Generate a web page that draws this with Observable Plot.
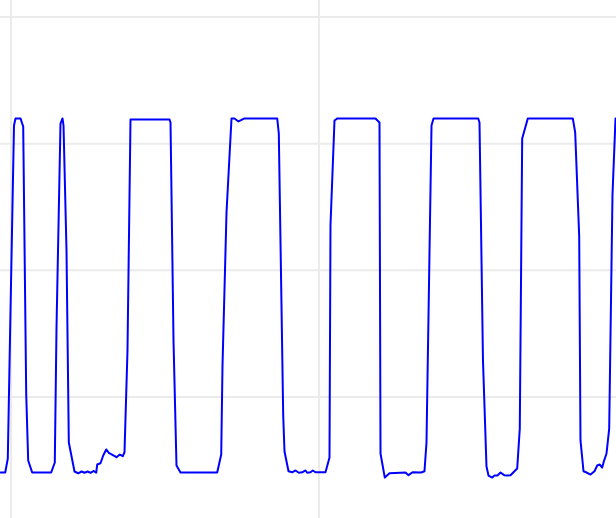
<!DOCTYPE html>
<html>
<head>
<meta charset="utf-8">
<script src="https://cdn.jsdelivr.net/npm/d3@7"></script>
<script src="https://cdn.jsdelivr.net/npm/@observablehq/plot@0.6"></script>
<style>
  html, body { margin: 0; padding: 0; background: #fff; }
  #chart svg { display: block; }
</style>
</head>
<body>
<div id="chart"></div>
<script>
// Time values
const tVals = [
  -3.41, -1.88, -1.04, -0.16, 0.97, 1.46, 3.08, 3.96, 4.94, 5.58, 6.88,
  13.05, 14.22, 14.77, 16.07, 16.72, 17.05, 18.02, 18.77, 20.62, 21.82,
  22.89, 23.86, 24.84, 25.81, 26.88, 27.66, 27.99, 29.06, 29.94, 30.91,
  31.75, 33.38, 34.25, 35.32, 36.30, 36.85, 37.82, 38.80, 51.46, 51.79,
  52.76, 53.73, 55.03, 66.95, 68.25, 68.67, 69.97, 71.59, 72.56, 73.86,
  75.81, 86.43, 86.95, 88.38, 88.80, 90.10, 91.30, 92.37, 93.44, 94.55,
  95.62, 96.17, 97.24, 97.99, 98.86, 102.11, 103.41, 103.73, 105.03, 106.01,
  118.34, 119.64, 119.97, 121.36, 122.89, 128.08, 129.06, 130.36, 133.18, 134.25,
  134.90, 136.53, 137.18, 151.69, 152.11, 153.24, 154.38, 155.03, 156.23, 156.98,
  157.95, 158.93, 160.13, 161.10, 162.18, 163.47, 164.35, 165.19, 165.97, 167.79,
  182.40, 183.18, 184.48, 184.90, 185.88, 186.85, 188.15, 189.45, 190.32, 191.17,
  191.95, 192.47, 193.35, 194.22, 195.29, 196.27, 197.50
];
// Signal values
const yVals = [
  -5.96, -5.96, -4.86, 6.83, 21.43, 21.99, 21.99, 21.35, 0.20, -5.01, -5.96,
  -5.96, -5.17, 5.41, 21.59, 21.99, 21.43, 11.57, -3.59, -5.88, -6.02,
  -5.88, -5.98, -5.88, -5.98, -5.84, -5.98, -5.33, -5.23, -4.62, -4.14,
  -4.41, -4.62, -4.75, -4.54, -4.67, -4.36, 3.67, 21.91, 21.91, 21.67,
  4.46, -5.41, -5.96, -5.96, -4.54, 2.49, 14.57, 21.99, 21.99, 21.75,
  21.99, 21.99, 20.80, -1.46, -4.30, -5.86, -5.94, -5.80, -5.98, -5.94,
  -5.80, -5.98, -5.94, -5.80, -5.94, -5.94, -4.78, 13.54, 21.83, 21.99,
  21.99, 21.67, -4.46, -6.36, -6.02, -5.96, -6.17, -5.94, -5.96, -5.86,
  -3.59, 21.43, 21.99, 21.99, 21.67, 2.88, -5.49, -6.20, -6.36, -6.20,
  -6.20, -5.96, -6.17, -6.20, -6.17, -5.86, -5.64, -2.49, 20.41, 21.99,
  21.99, 20.88, 12.67, -3.43, -5.86, -5.96, -6.12, -5.86, -5.41, -5.33,
  -5.57, -5.09, -4.46, -2.49, 15.99, 21.99, 21.99
];
const xGridTicks = [0, 100];
const yGridTicks = [0, 10, 20, 30];
const xDomain = [-3.41, 196.59];
const yDomain = [-9.59, 31.30];

const data = tVals.map((t, i) => ({t, y: yVals[i]}));

const chart = Plot.plot({
  width: 616,
  height: 518,
  marginTop: 0, marginRight: 0, marginBottom: 0, marginLeft: 0,
  x: {domain: xDomain, axis: null},
  y: {domain: yDomain, axis: null},
  style: {background: "#fff"},
  marks: [
    Plot.gridX(xGridTicks, {stroke: "#ebebeb", strokeOpacity: 1, strokeWidth: 2}),
    Plot.gridY(yGridTicks, {stroke: "#ebebeb", strokeOpacity: 1, strokeWidth: 2}),
    Plot.line(data, {x: "t", y: "y", stroke: "#0000ff", strokeWidth: 2, clip: true, strokeLinejoin: "round"})
  ]
});
document.getElementById("chart").appendChild(chart);
</script>
</body>
</html>
